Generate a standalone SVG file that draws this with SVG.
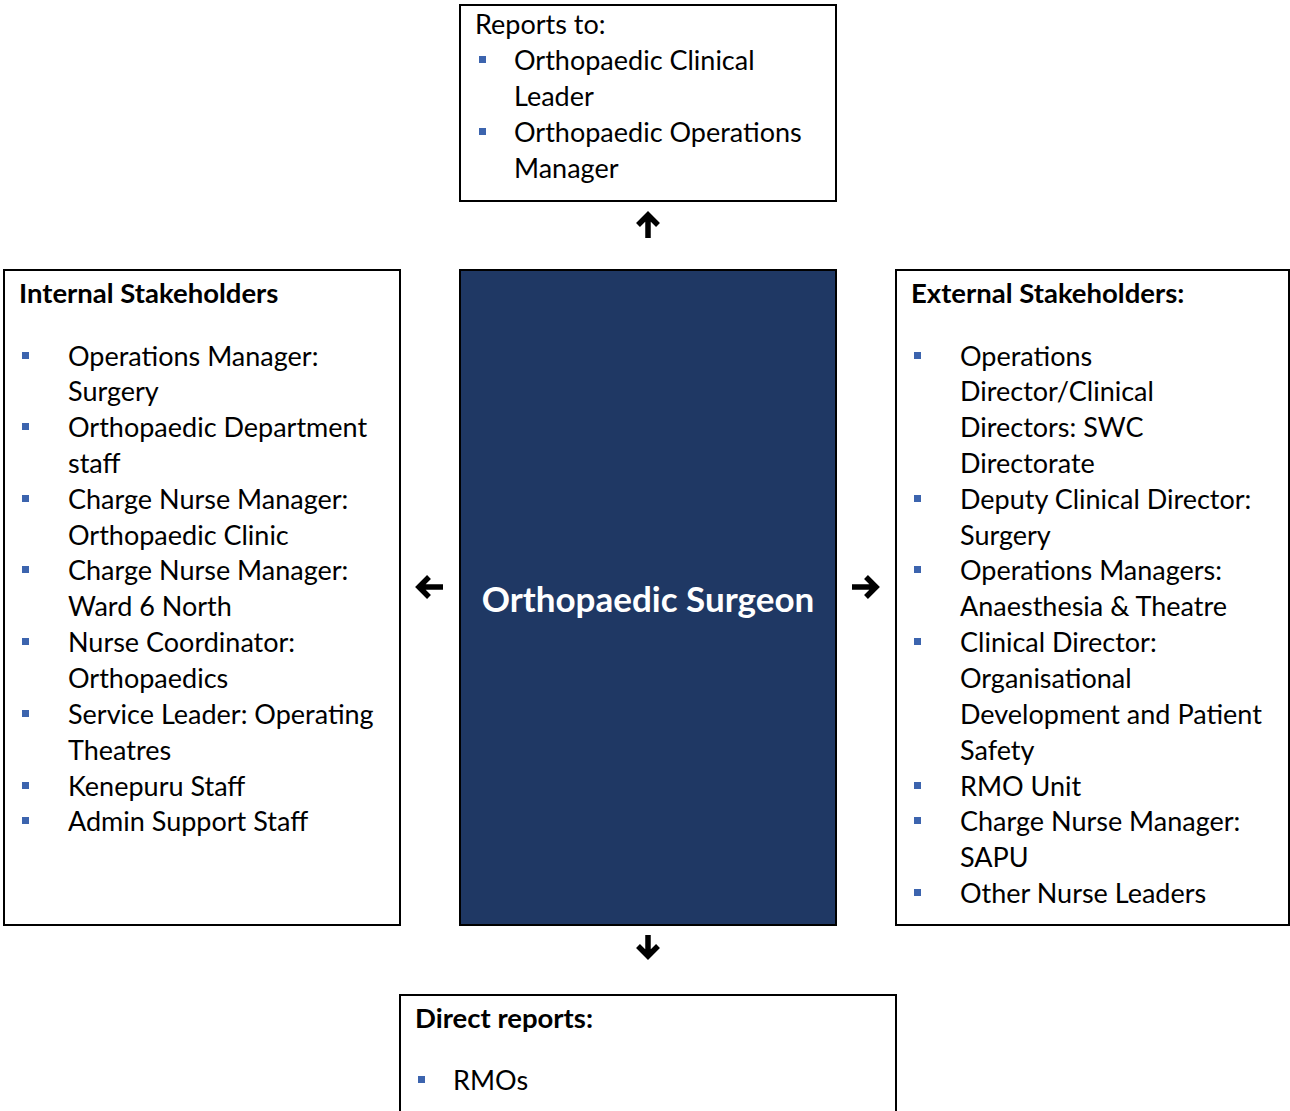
<svg xmlns="http://www.w3.org/2000/svg" width="1290" height="1111" viewBox="0 0 1290 1111">
<style>
.box{fill:#fff;stroke:#000;stroke-width:2}
.core{fill:#1F3864;stroke:#000;stroke-width:2}
.t{font-family:Lato,"Open Sans","Liberation Sans",sans-serif;font-size:27px;fill:#000}
.h{font-family:Lato,"Open Sans","Liberation Sans",sans-serif;font-size:27.5px;font-weight:bold;fill:#000}
.c{font-family:Lato,"Open Sans","Liberation Sans",sans-serif;font-size:35px;font-weight:bold;fill:#fff}
.b{fill:#3C64AE}
.arr{fill:none;stroke:#000;stroke-width:5.5;stroke-linejoin:miter;stroke-linecap:butt}
</style>
<g id="reports-to">
<rect class="box" x="460" y="5" width="376" height="196"/>
<text class="t" x="475" y="34">Reports to:</text>
<rect class="b" x="479" y="56" width="7" height="7"/>
<text class="t" x="514" y="70">Orthopaedic Clinical</text>
<text class="t" x="514" y="106">Leader</text>
<rect class="b" x="479" y="128" width="7" height="7"/>
<text class="t" x="514" y="142">Orthopaedic Operations</text>
<text class="t" x="514" y="178">Manager</text>
</g>
<g id="internal">
<rect class="box" x="4" y="270" width="396" height="655"/>
<text class="h" x="19" y="303">Internal Stakeholders</text>
<rect class="b" x="22" y="352" width="7" height="7"/>
<text class="t" x="68" y="366">Operations Manager:</text>
<text class="t" x="68" y="401">Surgery</text>
<rect class="b" x="22" y="423" width="7" height="7"/>
<text class="t" x="68" y="437">Orthopaedic Department</text>
<text class="t" x="68" y="473">staff</text>
<rect class="b" x="22" y="495" width="7" height="7"/>
<text class="t" x="68" y="509">Charge Nurse Manager:</text>
<text class="t" x="68" y="545">Orthopaedic Clinic</text>
<rect class="b" x="22" y="566" width="7" height="7"/>
<text class="t" x="68" y="580">Charge Nurse Manager:</text>
<text class="t" x="68" y="616">Ward 6 North</text>
<rect class="b" x="22" y="638" width="7" height="7"/>
<text class="t" x="68" y="652">Nurse Coordinator:</text>
<text class="t" x="68" y="688">Orthopaedics</text>
<rect class="b" x="22" y="710" width="7" height="7"/>
<text class="t" x="68" y="724">Service Leader: Operating</text>
<text class="t" x="68" y="760">Theatres</text>
<rect class="b" x="22" y="782" width="7" height="7"/>
<text class="t" x="68" y="796">Kenepuru Staff</text>
<rect class="b" x="22" y="817" width="7" height="7"/>
<text class="t" x="68" y="831">Admin Support Staff</text>
</g>
<g id="surgeon">
<rect class="core" x="460" y="270" width="376" height="655"/>
<text class="c" x="648" y="612" text-anchor="middle">Orthopaedic Surgeon</text>
</g>
<g id="external">
<rect class="box" x="896" y="270" width="393" height="655"/>
<text class="h" x="911" y="303">External Stakeholders:</text>
<rect class="b" x="914" y="352" width="7" height="7"/>
<text class="t" x="960" y="366">Operations</text>
<text class="t" x="960" y="401">Director/Clinical</text>
<text class="t" x="960" y="437">Directors: SWC</text>
<text class="t" x="960" y="473">Directorate</text>
<rect class="b" x="914" y="495" width="7" height="7"/>
<text class="t" x="960" y="509">Deputy Clinical Director:</text>
<text class="t" x="960" y="545">Surgery</text>
<rect class="b" x="914" y="566" width="7" height="7"/>
<text class="t" x="960" y="580">Operations Managers:</text>
<text class="t" x="960" y="616">Anaesthesia &amp; Theatre</text>
<rect class="b" x="914" y="638" width="7" height="7"/>
<text class="t" x="960" y="652">Clinical Director:</text>
<text class="t" x="960" y="688">Organisational</text>
<text class="t" x="960" y="724">Development and Patient</text>
<text class="t" x="960" y="760">Safety</text>
<rect class="b" x="914" y="782" width="7" height="7"/>
<text class="t" x="960" y="796">RMO Unit</text>
<rect class="b" x="914" y="817" width="7" height="7"/>
<text class="t" x="960" y="831">Charge Nurse Manager:</text>
<text class="t" x="960" y="867">SAPU</text>
<rect class="b" x="914" y="889" width="7" height="7"/>
<text class="t" x="960" y="903">Other Nurse Leaders</text>
</g>
<g id="direct-reports">
<rect class="box" x="400" y="995" width="496" height="130"/>
<text class="h" x="415" y="1028">Direct reports:</text>
<rect class="b" x="418" y="1076" width="7" height="7"/>
<text class="t" x="453" y="1090">RMOs</text>
</g>
<g id="connectors">
<path class="arr" d="M648 217V238M638 225L648 215L658 225"/>
<path class="arr" d="M419 587H443M429 577L419 587L429 597"/>
<path class="arr" d="M876 587H852M866 577L876 587L866 597"/>
<path class="arr" d="M648 956V935M638 946L648 956L658 946"/>
</g>
</svg>
